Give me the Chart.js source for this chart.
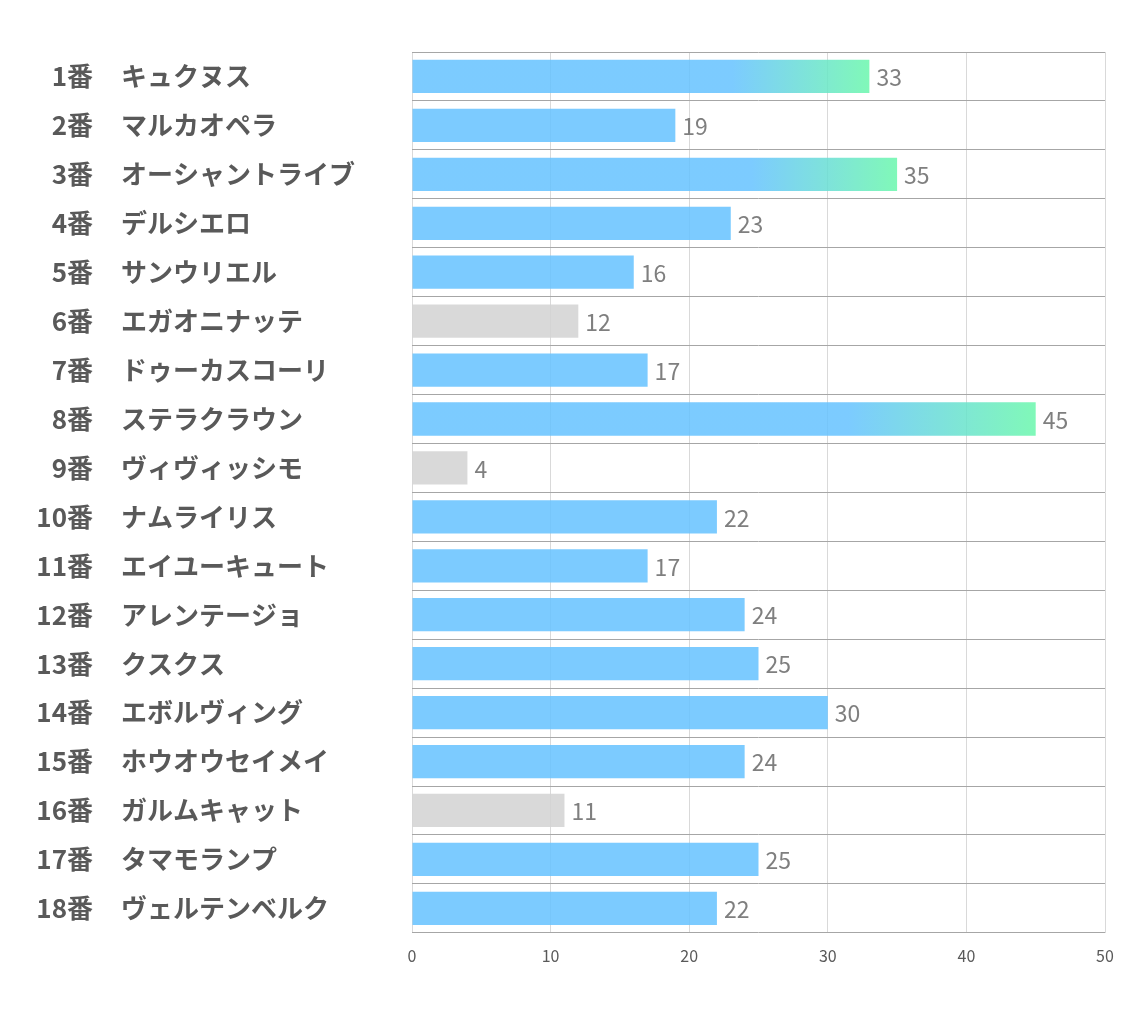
<!DOCTYPE html>
<html>
<head>
<meta charset="utf-8">
<script src="https://cdn.jsdelivr.net/npm/chart.js@4"></script>
<style>
  body { margin: 0; background: #fff; }
  .chart-box { width: 1134px; height: 1020px; position: relative; }
</style>
</head>
<body>
<div class="chart-box"><canvas id="voteChart"></canvas></div>
<script>
// horse numbers, names and vote counts (top to bottom)
const horseNumbers = ['1番', '2番', '3番', '4番', '5番', '6番', '7番', '8番', '9番',
    '10番', '11番', '12番', '13番', '14番', '15番', '16番', '17番', '18番'];
const horseNames = ['キュクヌス', 'マルカオペラ', 'オーシャントライブ', 'デルシエロ', 'サンウリエル',
    'エガオニナッテ', 'ドゥーカスコーリ', 'ステラクラウン', 'ヴィヴィッシモ', 'ナムライリス',
    'エイユーキュート', 'アレンテージョ', 'クスクス', 'エボルヴィング', 'ホウオウセイメイ',
    'ガルムキャット', 'タマモランプ', 'ヴェルテンベルク'];
const votes = [33, 19, 35, 23, 16, 12, 17, 45, 4, 22, 17, 24, 25, 30, 24, 11, 25, 22];
const xTicks = [0, 10, 20, 30, 40, 50];

// slightly see-through so the grid shows faintly through the bars
const BLUE = 'rgba(101,194,255,0.85)';
const GREEN = 'rgba(106,247,172,0.85)';
const GRAY = 'rgba(210,210,210,0.85)';
const FONT = '"Noto Sans CJK JP", "Noto Sans", sans-serif';

// top 3 get the gradient, bottom 3 are gray
const sorted = [...votes].sort((a, b) => a - b);
const lowLimit = sorted[2];
const highLimit = sorted[sorted.length - 3];

function barColor(context) {
    const v = votes[context.dataIndex];
    if (v <= lowLimit) return GRAY;
    if (v < highLimit) return BLUE;
    const chart = context.chart;
    if (!chart.chartArea) return BLUE;
    const x = chart.scales.x;
    const x0 = x.getPixelForValue(0);
    const x1 = x.getPixelForValue(v);
    const g = chart.ctx.createLinearGradient(x0, 0, x1, 0);
    g.addColorStop(0, BLUE);
    g.addColorStop(0.7, BLUE);
    g.addColorStop(1, GREEN);
    return g;
}

const labelPlugin = {
    id: 'labelPlugin',
    afterDraw(chart) {
        const ctx = chart.ctx;
        const y = chart.scales.y;
        const x = chart.scales.x;
        ctx.save();
        ctx.textBaseline = 'middle';
        horseNames.forEach((name, i) => {
            const py = y.getPixelForValue(i);
            ctx.font = 'bold 26px ' + FONT;
            ctx.fillStyle = '#595959';
            ctx.textAlign = 'right';
            ctx.fillText(horseNumbers[i], 93, py);
            ctx.textAlign = 'left';
            ctx.fillText(name, 121, py);
            // value at end of bar
            ctx.font = '23px ' + FONT;
            ctx.fillStyle = '#7F7F7F';
            ctx.fillText(String(votes[i]), x.getPixelForValue(votes[i]) + 7, py + 1);
        });
        ctx.restore();
    }
};

new Chart(document.getElementById('voteChart'), {
    type: 'bar',
    data: {
        labels: horseNames.map((n, i) => horseNumbers[i] + '　' + n),
        datasets: [{
            data: votes,
            backgroundColor: barColor,
            barPercentage: 0.68,
            categoryPercentage: 1
        }]
    },
    options: {
        indexAxis: 'y',
        responsive: true,
        maintainAspectRatio: false,
        animation: false,
        layout: { padding: { left: 412, right: 29, top: 52, bottom: 40 } },
        plugins: {
            legend: { display: false },
            tooltip: { enabled: false }
        },
        scales: {
            x: {
                min: 0,
                max: 50,
                afterBuildTicks: (scale) => { scale.ticks = xTicks.map(v => ({ value: v })); },
                ticks: { color: '#595959', font: { size: 16, family: FONT }, padding: 14 },
                grid: { color: '#D9D9D9', drawTicks: false },
                border: { display: false }
            },
            y: {
                ticks: { display: false },
                afterFit: (scale) => { scale.width = 0; },
                grid: { offset: true, color: '#A6A6A6', drawTicks: false },
                border: { display: false }
            }
        }
    },
    plugins: [labelPlugin]
});
</script>
</body>
</html>
